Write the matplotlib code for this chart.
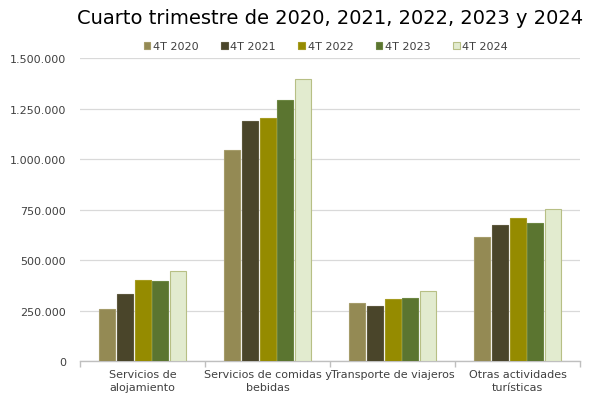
import matplotlib
matplotlib.use("Agg")
import matplotlib.pyplot as plt
import numpy as np
from matplotlib.ticker import FuncFormatter, FixedLocator

categories = ["Servicios de\nalojamiento", "Servicios de comidas y\nbebidas",
              "Transporte de viajeros", "Otras actividades\nturísticas"]
series_names = ["4T 2020", "4T 2021", "4T 2022", "4T 2023", "4T 2024"]
v2020 = [257000, 1045000, 286000, 615000]
v2021 = [332000, 1187000, 271000, 675000]
v2022 = [402000, 1206000, 305000, 709000]
v2023 = [396000, 1295000, 312000, 683000]
v2024 = [446000, 1399000, 345000, 751000]
values = [v2020, v2021, v2022, v2023, v2024]
colors = ["#948A54", "#4A452A", "#958B00", "#5B7530", "#E2EBCF"]
edges = ["#A59C6A", "#5C573C", "#A59B20", "#6C8642", "#B7BF85"]

fig = plt.figure(figsize=(6, 4.06), dpi=100)
ax = fig.add_axes([80/600, 1-362/406, 500/600, (362-59.3)/406])

x = np.arange(len(categories))
slot = 0.1415
bw = 0.128
for i, (name, vals) in enumerate(zip(series_names, values)):
    ax.bar(x + (i-2)*slot, vals, width=bw, color=colors[i], edgecolor=edges[i],
           linewidth=0.8, label=name, zorder=3)

ax.set_xlim(-0.5, len(categories)-0.5)
ax.set_ylim(0, 1500000)
ax.set_yticks(np.arange(0, 1500001, 250000))
ax.yaxis.set_major_formatter(FuncFormatter(lambda v, p: f"{int(v):,}".replace(",", ".")))
ax.grid(axis="y", color="#D9D9D9", linewidth=0.9, zorder=0)
for s in ["top", "right", "left"]:
    ax.spines[s].set_visible(False)
ax.spines["bottom"].set_color("#BFBFBF")
ax.spines["bottom"].set_linewidth(1.0)
ax.tick_params(axis="y", length=0, labelsize=8, labelcolor="#404040", pad=10)
ax.set_xticks(x)
ax.set_xticklabels(categories, fontsize=8, color="#404040", linespacing=1.35)
ax.tick_params(axis="x", which="major", length=0, pad=6)
ax.xaxis.set_minor_locator(FixedLocator(np.arange(-0.5, len(categories), 1.0)))
ax.tick_params(axis="x", which="minor", length=4, color="#BFBFBF", width=1.0)

fig.text(0.55, 0.955, "Cuarto trimestre de 2020, 2021, 2022, 2023 y 2024",
         ha="center", va="center", fontsize=14, color="#000000")
leg = fig.legend(loc="center", bbox_to_anchor=(0.543, 0.884), ncol=5, frameon=False,
                 fontsize=8, handlelength=0.6, handleheight=0.6, handletextpad=0.25,
                 columnspacing=2.0, labelcolor="#404040")

fig.savefig("out.png", dpi=100)
